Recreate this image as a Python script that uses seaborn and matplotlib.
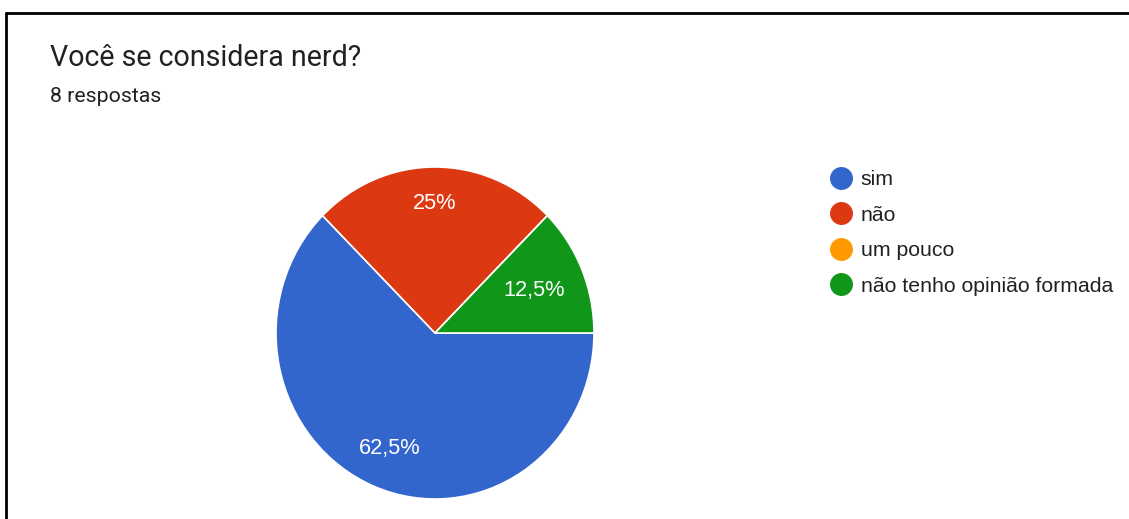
import matplotlib
matplotlib.use("Agg")
import matplotlib.pyplot as plt
from matplotlib.lines import Line2D
import numpy as np
import seaborn as sns

categories = ["sim", "não", "um pouco", "não tenho opinião formada"]
values = [62.5, 25.0, 0.0, 12.5]
title = "Você se considera nerd?"
subtitle = "8 respostas"
colors = ["#3366cc", "#dc3912", "#ff9900", "#109618"]

sns.set_theme(style="white")
plt.rcParams['font.family'] = ['Roboto', 'DejaVu Sans']
chart_font = ['Liberation Sans', 'DejaVu Sans']

fig = plt.figure(figsize=(11.29, 5.19), dpi=100)
fig.patch.set_facecolor("white")

# border lines (left and top)
fig.add_artist(Line2D([6/1129, 6/1129], [0, 1 - 13/519], color="black", lw=2))
fig.add_artist(Line2D([6/1129, 1], [1 - 13/519, 1 - 13/519], color="black", lw=2))

fig.text(50/1129, 1 - 58/519, title, fontsize=20.6, color="#202124", va="center", ha="left")
fig.text(50/1129, 1 - 97/519, subtitle, fontsize=15.3, color="#202124", va="center", ha="left")

ax = fig.add_axes([276/1129, 20/519, 318/1129, 332/519])
wedges, texts, autotexts = ax.pie(
    values, colors=colors, startangle=0, counterclock=False,
    autopct=lambda p: (f"{p:.1f}".replace(".", ",").replace(",0", "") + "%") if p > 0 else "",
    pctdistance=0.75, wedgeprops=dict(edgecolor="white", linewidth=1.2),
    textprops=dict(color="white", fontsize=15.7, family=chart_font),
)
# label distances per slice (Google charts placement)
dists = [0.75, 0.78, 0.75, 0.675]
for w, t, d in zip(wedges, autotexts, dists):
    ang = np.deg2rad((w.theta1 + w.theta2) / 2)
    t.set_position((d * np.cos(ang), d * np.sin(ang)))
ax.set_xlim(-1, 1)
ax.set_ylim(-1, 1)
ax.set_aspect("auto")
ax.axis("off")

handles = [Line2D([0], [0], marker="o", color="none", markerfacecolor=c, markeredgecolor=c,
                  markersize=15.5) for c in colors]
leg = fig.legend(handles, categories, loc="upper left", bbox_to_anchor=(833/1129, 1 - 170/519),
                 frameon=False, prop=dict(family=chart_font, size=15.35),
                 handlelength=0.75, handletextpad=0.55,
                 labelspacing=0.78, borderpad=0, borderaxespad=0)
for t in leg.get_texts():
    t.set_color("#202124")

fig.savefig("out.png", dpi=100, facecolor="white")
